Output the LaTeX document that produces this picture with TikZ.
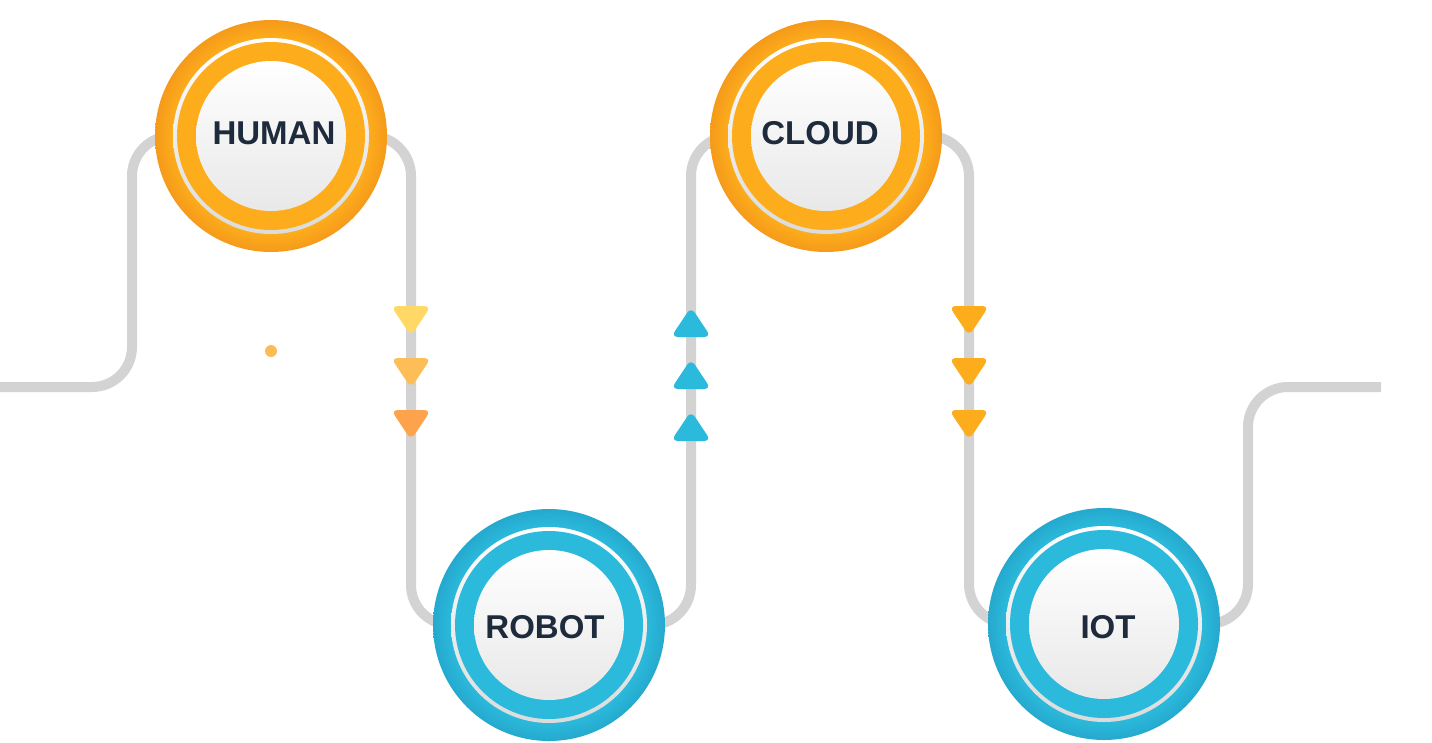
\documentclass[tikz,border=0pt]{standalone}
\usepackage{fontspec}
\setmainfont{Liberation Sans}
\usetikzlibrary{backgrounds}
\definecolor{oMain}{HTML}{FDAD1C}
\definecolor{oEdge}{HTML}{F59A1A}
\definecolor{cMain}{HTML}{2BBADB}
\definecolor{cEdge}{HTML}{25A9CE}
\definecolor{ink}{HTML}{1E2B3C}
\definecolor{trackgray}{HTML}{D3D3D3}
\definecolor{triA}{HTML}{FFD866}
\definecolor{triB}{HTML}{FDBE58}
\definecolor{triC}{HTML}{FDA34C}
\definecolor{triBlue}{HTML}{2BBADB}
\definecolor{triOrange}{HTML}{FDAD1B}
\definecolor{dotcol}{HTML}{FDBB55}
\pgfdeclareradialshading{oring}{\pgfpoint{0bp}{0bp}}{color(0bp)=(oMain); color(21bp)=(oMain); color(25bp)=(oEdge); color(50bp)=(oEdge)}
\pgfdeclareradialshading{cring}{\pgfpoint{0bp}{0bp}}{color(0bp)=(cMain); color(21bp)=(cMain); color(25bp)=(cEdge); color(50bp)=(cEdge)}
\newcommand\hubnode[6]{% name, position, label, colour prefix, label yshift, label xshift
  \node[hubcircle] (#1) at #2 {};
  \shade[shading=#4ring] (#1.center) circle (116pt);
  \shade[top color=white,bottom color=black!14] (#1.center) circle (98pt);
  \fill[#4Main] (#1.center) circle (94pt);
  \shade[top color=white,bottom color=black!9] (#1.center) circle (75pt);
  \node[hublabel,yshift=#5,xshift=#6] (#1-label) at (#1.center) {#3};
}
\begin{document}
\begin{tikzpicture}[x=1pt,y=-1pt,
  hubcircle/.style={circle,inner sep=0pt,minimum size=232pt},
  hublabel/.style={inner sep=0pt,text=ink,font=\fontsize{33}{40}\selectfont\bfseries},
  track/.style={draw=trackgray,line width=10pt,rounded corners=40pt},
  downtri/.pic={\fill[rounded corners=7pt] (-20,-15) -- (20,-15) -- (0,15) -- cycle;},
  uptri/.pic={\fill[rounded corners=7pt] (-20,15) -- (20,15) -- (0,-15) -- cycle;}]
\useasboundingbox (0,0) rectangle (1432,742);
\hubnode{human}{(271,136)}{HUMAN}{o}{3pt}{3pt}
\hubnode{robot}{(549,625)}{ROBOT}{c}{-2pt}{-4pt}
\hubnode{cloud}{(826,136)}{CLOUD}{o}{3pt}{-6pt}
\hubnode{iot}{(1104,624)}{IOT}{c}{-3pt}{4pt}
\coordinate (L) at (0,387);
\coordinate (R) at (1381,387);
\coordinate (k1) at (132,136);
\coordinate (k2) at (411,625);
\coordinate (k3) at (691,136);
\coordinate (k4) at (969,624);
\coordinate (k5) at (1248,387);
\begin{scope}[on background layer]
\draw[track] (L) -| (k1) -- (human.center) -| (k2) -- (robot.center) -| (k3) -- (cloud.center) -| (k4) -- (iot.center) -| (k5) -- (R);
\end{scope}
\pic[color=triA] at (411,321) {downtri};
\pic[color=triB] at (411,373) {downtri};
\pic[color=triC] at (411,425) {downtri};
\pic[color=triBlue] at (691,322) {uptri};
\pic[color=triBlue] at (691,374) {uptri};
\pic[color=triBlue] at (691,426) {uptri};
\pic[color=triOrange] at (969,321) {downtri};
\pic[color=triOrange] at (969,373) {downtri};
\pic[color=triOrange] at (969,425) {downtri};
\node[circle,fill=dotcol,inner sep=0pt,minimum size=12pt] (dot) at (271,351) {};
\end{tikzpicture}
\end{document}
